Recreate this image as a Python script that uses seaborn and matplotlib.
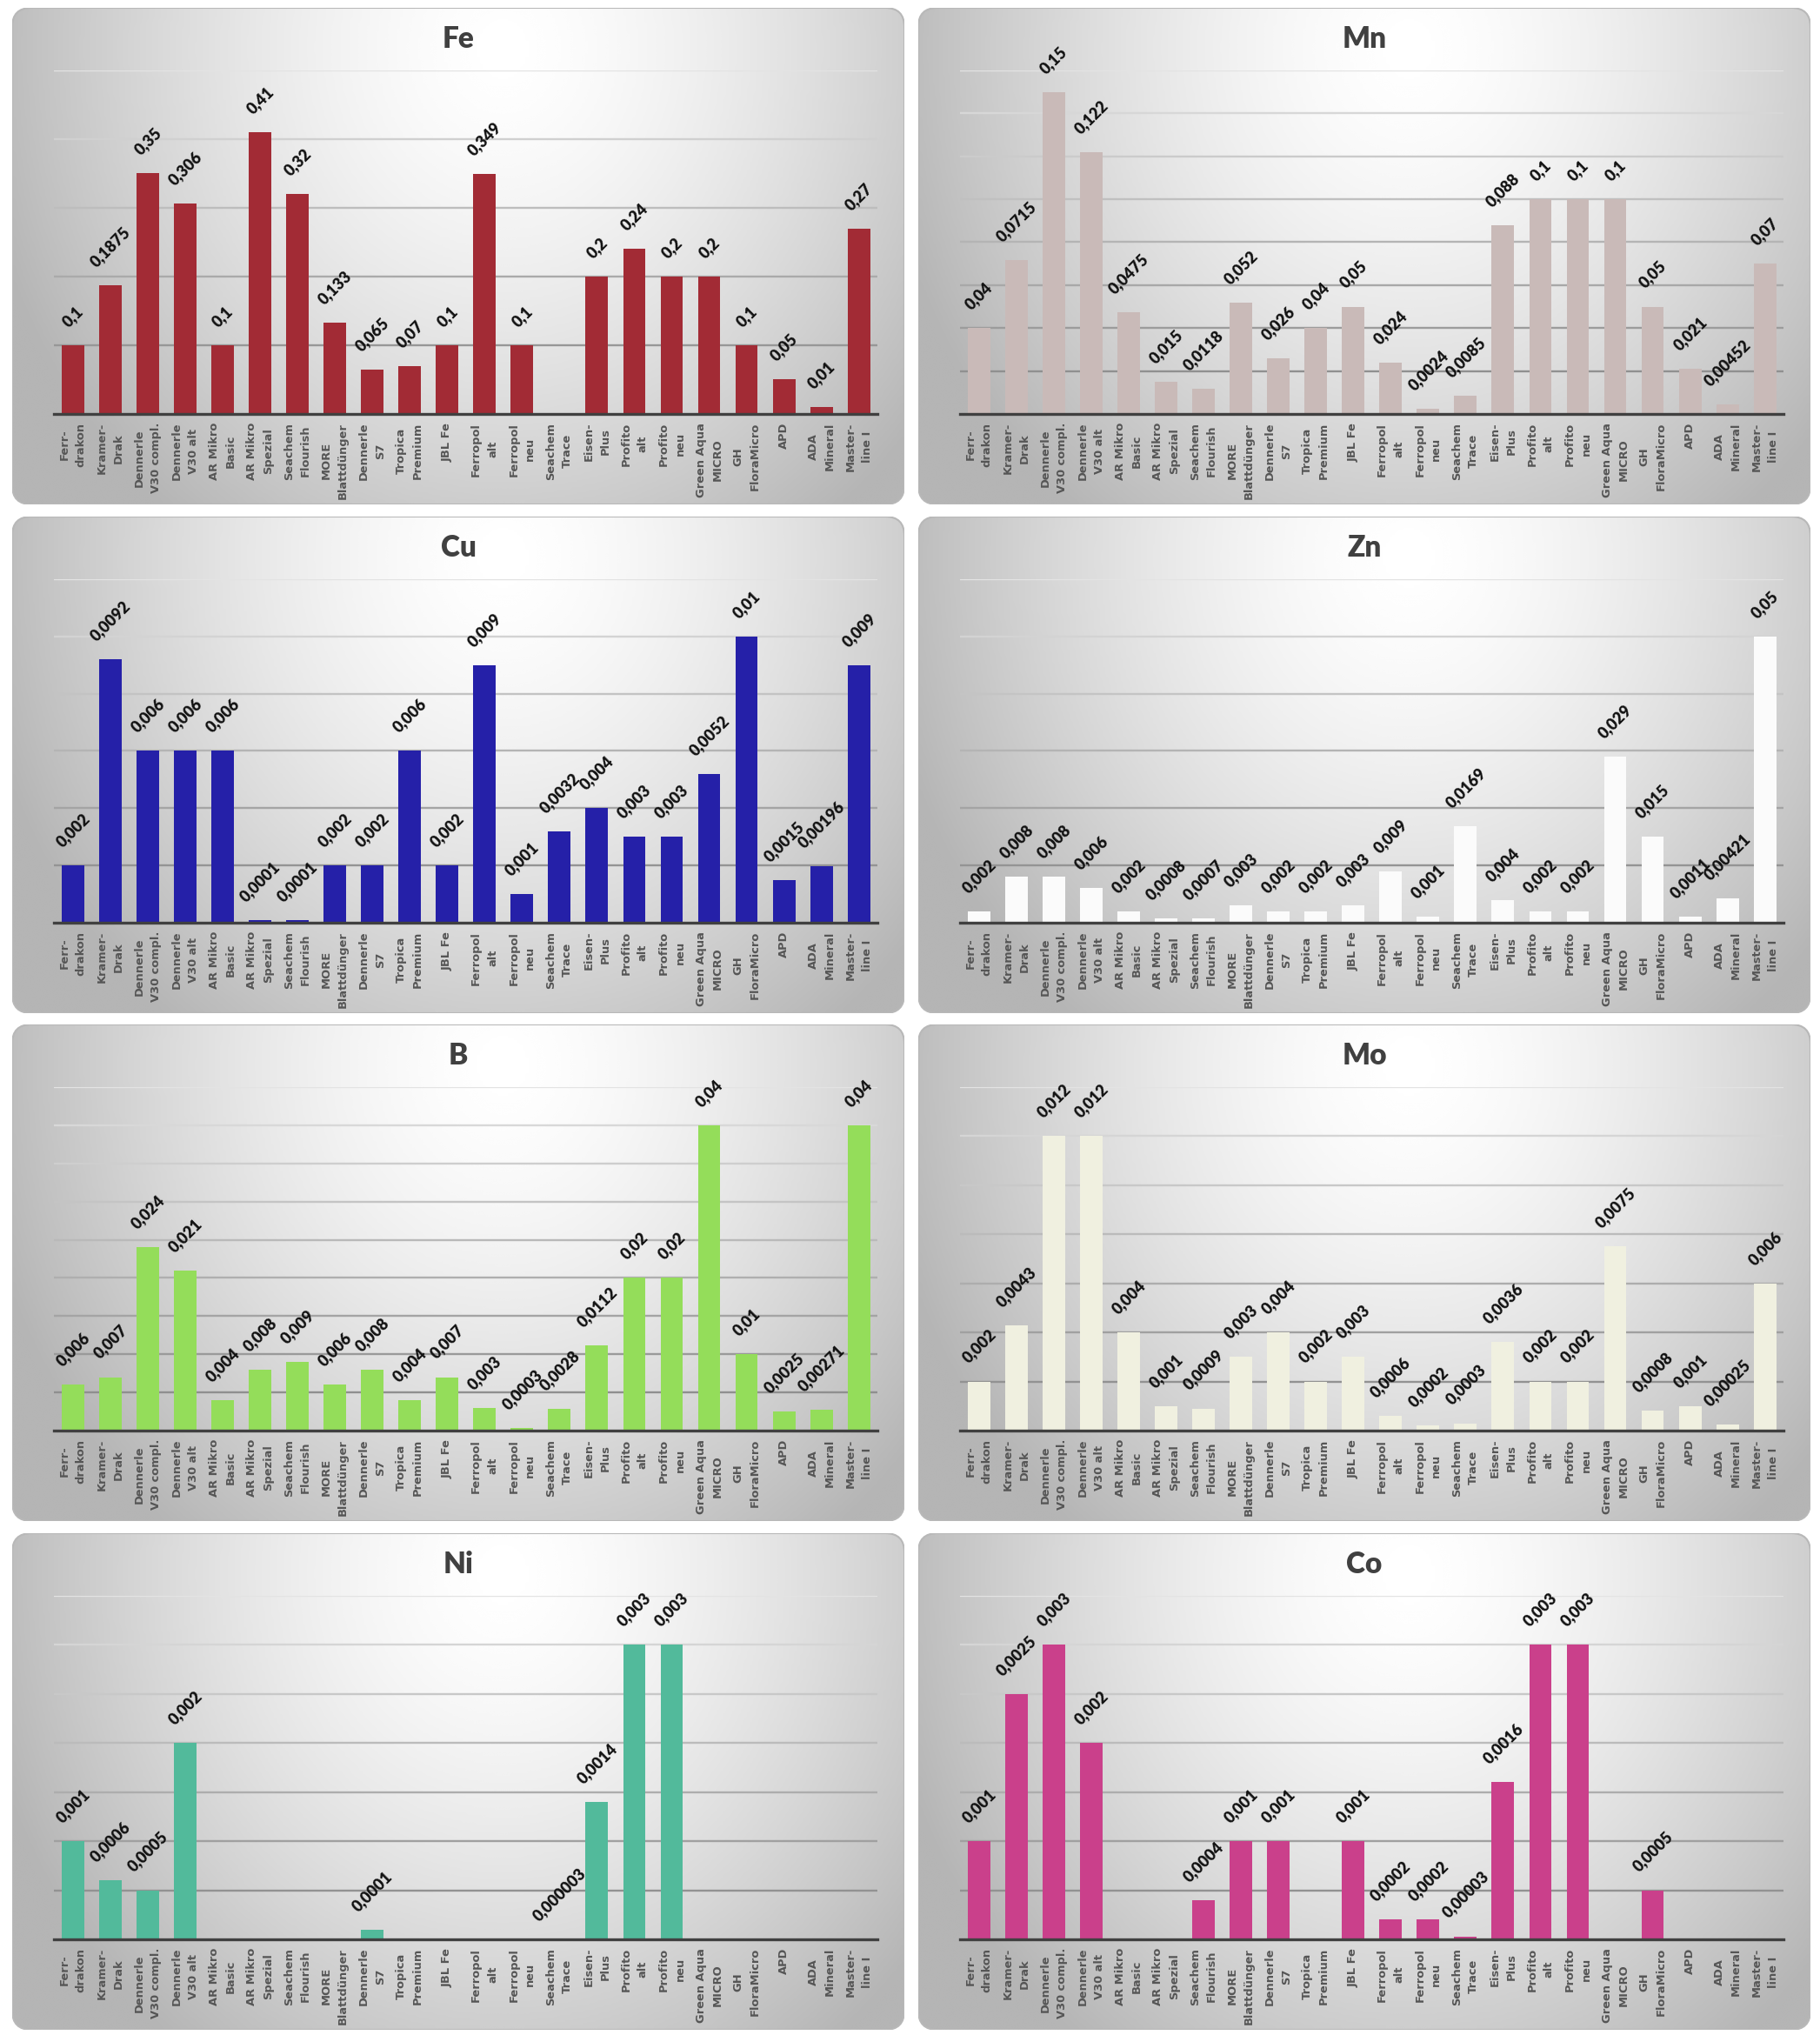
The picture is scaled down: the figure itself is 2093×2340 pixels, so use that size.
import numpy as np
import pandas as pd
import matplotlib
matplotlib.use("Agg")
import matplotlib.pyplot as plt
from matplotlib.patches import FancyBboxPatch
import seaborn as sns

nan = np.nan

# Produkte (x-Achse)
categories = [
    "Ferr-\ndrakon", "Kramer-\nDrak", "Dennerle\nV30 compl.", "Dennerle\nV30 alt",
    "AR Mikro\nBasic", "AR Mikro\nSpezial", "Seachem\nFlourish", "MORE\nBlattdünger",
    "Dennerle\nS7", "Tropica\nPremium", "JBL Fe", "Ferropol\nalt", "Ferropol\nneu",
    "Seachem\nTrace", "Eisen-\nPlus", "Profito\nalt", "Profito\nneu",
    "Green Aqua\nMICRO", "GH\nFloraMicro", "APD", "ADA\nMineral", "Master-\nline I",
]

# Gehalte je Element (nan = kein Wert)
fe = [0.1, 0.1875, 0.35, 0.306, 0.1, 0.41, 0.32, 0.133, 0.065, 0.07, 0.1,
      0.349, 0.1, nan, 0.2, 0.24, 0.2, 0.2, 0.1, 0.05, 0.01, 0.27]
mn = [0.04, 0.0715, 0.15, 0.122, 0.0475, 0.015, 0.0118, 0.052, 0.026, 0.04, 0.05,
      0.024, 0.0024, 0.0085, 0.088, 0.1, 0.1, 0.1, 0.05, 0.021, 0.00452, 0.07]
cu = [0.002, 0.0092, 0.006, 0.006, 0.006, 0.0001, 0.0001, 0.002, 0.002, 0.006, 0.002,
      0.009, 0.001, 0.0032, 0.004, 0.003, 0.003, 0.0052, 0.01, 0.0015, 0.00196, 0.009]
zn = [0.002, 0.008, 0.008, 0.006, 0.002, 0.0008, 0.0007, 0.003, 0.002, 0.002, 0.003,
      0.009, 0.001, 0.0169, 0.004, 0.002, 0.002, 0.029, 0.015, 0.0011, 0.00421, 0.05]
b = [0.006, 0.007, 0.024, 0.021, 0.004, 0.008, 0.009, 0.006, 0.008, 0.004, 0.007,
     0.003, 0.0003, 0.0028, 0.0112, 0.02, 0.02, 0.04, 0.01, 0.0025, 0.00271, 0.04]
mo = [0.002, 0.0043, 0.012, 0.012, 0.004, 0.001, 0.0009, 0.003, 0.004, 0.002, 0.003,
      0.0006, 0.0002, 0.0003, 0.0036, 0.002, 0.002, 0.0075, 0.0008, 0.001, 0.00025, 0.006]
ni = [0.001, 0.0006, 0.0005, 0.002, nan, nan, nan, nan, 0.0001, nan, nan,
      nan, nan, 0.000003, 0.0014, 0.003, 0.003, nan, nan, nan, nan, nan]
co = [0.001, 0.0025, 0.003, 0.002, nan, nan, 0.0004, 0.001, 0.001, nan, 0.001,
      0.0002, 0.0002, 0.00003, 0.0016, 0.003, 0.003, nan, 0.0005, nan, nan, nan]

# Titel, Werte, Farbe, Achsenmaximum, Gitterabstand
panels = [
    ("Fe", fe, "#a22b35", 0.5, 0.1),
    ("Mn", mn, "#c9bab8", 0.16, 0.02),
    ("Cu", cu, "#2520a8", 0.012, 0.002),
    ("Zn", zn, "#fbfbfb", 0.06, 0.01),
    ("B", b, "#94dd5a", 0.045, 0.005),
    ("Mo", mo, "#f0f0e0", 0.014, 0.002),
    ("Ni", ni, "#52ba9b", 0.0035, 0.0005),
    ("Co", co, "#ca408b", 0.0035, 0.0005),
]

W, H = 2093, 2340
fig = plt.figure(figsize=(W / 100, H / 100), dpi=100, facecolor="white")

col_x = [14, 1056]
row_y = [9, 594, 1178, 1763]
pw, ph = 1026, 571

# Hintergrund-Verlauf (hell oben mitte, grau zu den Raendern)
uu, vv = np.meshgrid(np.linspace(0, 1, 300), np.linspace(0, 1, 200))
d = np.sqrt(((uu - 0.55) / 0.60) ** 2 + ((vv - 0.08) / 1.2) ** 2)
grad = 1 - 0.29 * np.clip(d, 0, 1) ** 1.5

label_font = ["DejaVu Sans"]
value_font = ["Lato", "DejaVu Sans"]
title_font = ["Lato", "DejaVu Sans"]


def fmt(v):
    return np.format_float_positional(v, trim="-").replace(".", ",")


for k, (title, values, color, ymax, step) in enumerate(panels):
    px = col_x[k % 2]
    py = row_y[k // 2]

    # Panel-Hintergrund mit runden Ecken
    bg = fig.add_axes([px / W, 1 - (py + ph) / H, pw / W, ph / H], zorder=0)
    bg.set_axis_off()
    im = bg.imshow(grad, extent=[0, 1, 0, 1], aspect="auto", cmap="gray",
                   vmin=0, vmax=1, origin="upper", interpolation="bicubic")
    r = 22 / pw
    box = FancyBboxPatch((0, 0), 1, 1, boxstyle=f"round,pad=0,rounding_size={r}",
                         mutation_aspect=pw / ph, transform=bg.transAxes,
                         facecolor="none", edgecolor="#b8b8b8", linewidth=1.5)
    bg.add_patch(box)
    im.set_clip_path(box)
    bg.set_xlim(0, 1)
    bg.set_ylim(0, 1)

    # Diagramm
    left = px + 0.047 * pw
    right = px + 0.970 * pw
    top = py + 72
    bottom = py + 467
    ax = fig.add_axes([left / W, 1 - bottom / H, (right - left) / W, (bottom - top) / H],
                      zorder=1)
    ax.patch.set_alpha(0)

    df = pd.DataFrame({"Produkt": categories, "Wert": values})
    sns.barplot(data=df, x="Produkt", y="Wert", order=categories, color=color,
                saturation=1, width=0.6, errorbar=None, ax=ax, zorder=2)

    ax.set_xlim(-0.5, len(categories) - 0.5)
    ax.set_ylim(0, ymax)
    for t in np.arange(step, ymax + step / 2, step):
        frac = t / ymax
        g = 0.52 + 0.37 * frac
        ax.axhline(t, color=(g, g, g), linewidth=1.7, zorder=0.5)

    for s in ["top", "right", "left"]:
        ax.spines[s].set_visible(False)
    ax.spines["bottom"].set_color("#404040")
    ax.spines["bottom"].set_linewidth(2.4)
    ax.spines["bottom"].set_zorder(3)
    ax.set_yticks([])
    ax.set_xlabel("")
    ax.set_ylabel("")
    ax.tick_params(axis="x", length=0, pad=7)
    ax.set_xticks(range(len(categories)))
    ax.set_xticklabels(categories, rotation=90, fontsize=9.4, fontweight="bold",
                       color="#555555", family=label_font, linespacing=1.6,
                       ha="center", va="top", multialignment="center")

    for i, v in enumerate(values):
        if np.isnan(v):
            continue
        ax.annotate(fmt(v), (i, v), xytext=(0, 13), textcoords="offset points",
                    rotation=45, ha="center", va="bottom", fontsize=13,
                    fontweight="heavy", color="#111111", family=value_font,
                    annotation_clip=False, zorder=4)

    fig.text((px + pw / 2) / W, 1 - (py + 36) / H, title, ha="center", va="center",
             fontsize=24, fontweight="heavy", color="#404040", family=title_font)

fig.savefig("out.png", dpi=100, facecolor="white")
